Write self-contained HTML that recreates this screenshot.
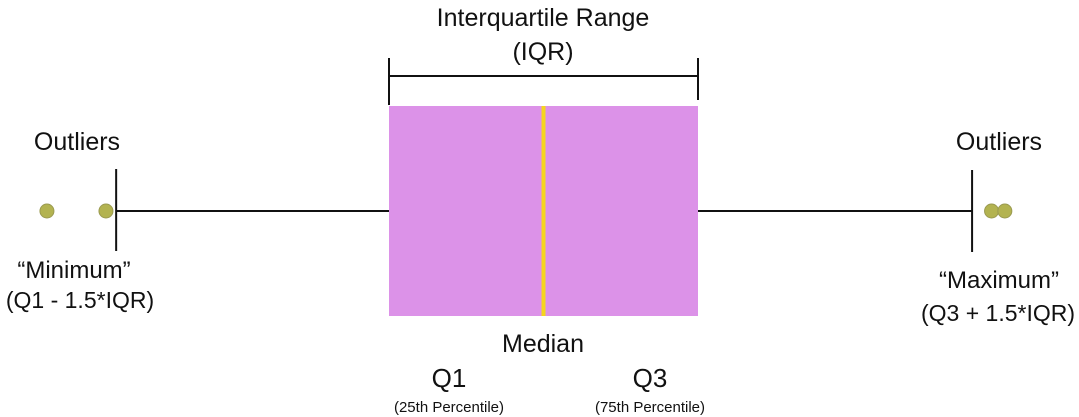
<!DOCTYPE html>
<html><head><meta charset="utf-8"><style>
html,body{margin:0;padding:0;background:#fff;}
svg{display:block;font-family:"Liberation Sans",sans-serif;}
text{fill:#111;}
</style></head><body>
<svg id="chart" width="1079" height="417" viewBox="0 0 1079 417" xmlns="http://www.w3.org/2000/svg"></svg>
<script>
const q1 = 10, median = 15, q3 = 20;
const whiskerMin = 1.17, whiskerMax = 28.87;
const lowOutliers = [-1.07, 0.84];
const highOutliers = [29.5, 29.93];

const X0 = 389, PX = 30.9;
function x(v){ return X0 + (v - q1) * PX; }
const yMid = 211, boxTop = 106, boxBot = 316;
const NS = "http://www.w3.org/2000/svg";
const svg = document.getElementById('chart');
function el(tag, attrs){ const e = document.createElementNS(NS, tag); for (const k in attrs) e.setAttribute(k, attrs[k]); svg.appendChild(e); return e; }
function txt(s, cx, y, size){ const t = el('text', {x:cx, y:y, 'font-size':size, 'text-anchor':'middle'}); t.textContent = s; return t; }

let e;
e = el('line',{x1:x(whiskerMin),y1:yMid,x2:x(q1),y2:yMid,stroke:'#111','stroke-width':2});
 
e = el('line',{x1:x(q3),y1:yMid,x2:x(whiskerMax),y2:yMid,stroke:'#111','stroke-width':2});
 
e = el('line',{x1:x(whiskerMin),y1:169,x2:x(whiskerMin),y2:251,stroke:'#111','stroke-width':2});
 
e = el('line',{x1:x(whiskerMax),y1:170,x2:x(whiskerMax),y2:252,stroke:'#111','stroke-width':2});
 
e = el('rect',{x:x(q1),y:boxTop,width:x(q3)-x(q1),height:boxBot-boxTop,fill:'#dc92e8'});
 
e = el('line',{x1:x(median),y1:boxTop,x2:x(median),y2:boxBot,stroke:'#f5d51e','stroke-width':4});
 
lowOutliers.concat(highOutliers).forEach(function(v){
  const c = el('circle',{cx:x(v),cy:yMid,r:7,fill:'#b3b350',stroke:'#9a9a50','stroke-width':1});
   
});
e = el('path',{d:'M'+x(q1)+' 58 V105 M'+x(q3)+' 58 V100 M'+x(q1)+' 76 H'+x(q3),stroke:'#111','stroke-width':2,fill:'none'});
 

const labels = [
 ['Interquartile Range', 543, 26, 25, 'iqr-title'],
 ['(IQR)', 543, 60, 25, 'iqr-subtitle'],
 ['Outliers', 77, 150, 25, 'left-outliers-label'],
 ['Outliers', 999, 150, 25, 'right-outliers-label'],
 ['\u201cMinimum\u201d', 74, 278, 24, 'minimum-label'],
 ['(Q1 - 1.5*IQR)', 80, 308, 23, 'minimum-formula'],
 ['\u201cMaximum\u201d', 999, 288, 24, 'maximum-label'],
 ['(Q3 + 1.5*IQR)', 998, 321, 23, 'maximum-formula'],
 ['Median', 543, 352, 25, 'median-label'],
 ['Q1', 449, 387, 26, 'q1-label'],
 ['Q3', 650, 387, 26, 'q3-label'],
 ['(25th Percentile)', 449, 412, 15, 'q1-percentile'],
 ['(75th Percentile)', 650, 412, 15, 'q3-percentile']
];
labels.forEach(function(l){
  const t = txt(l[0], l[1], l[2], l[3]);
  
  
});
</script>
</body></html>
